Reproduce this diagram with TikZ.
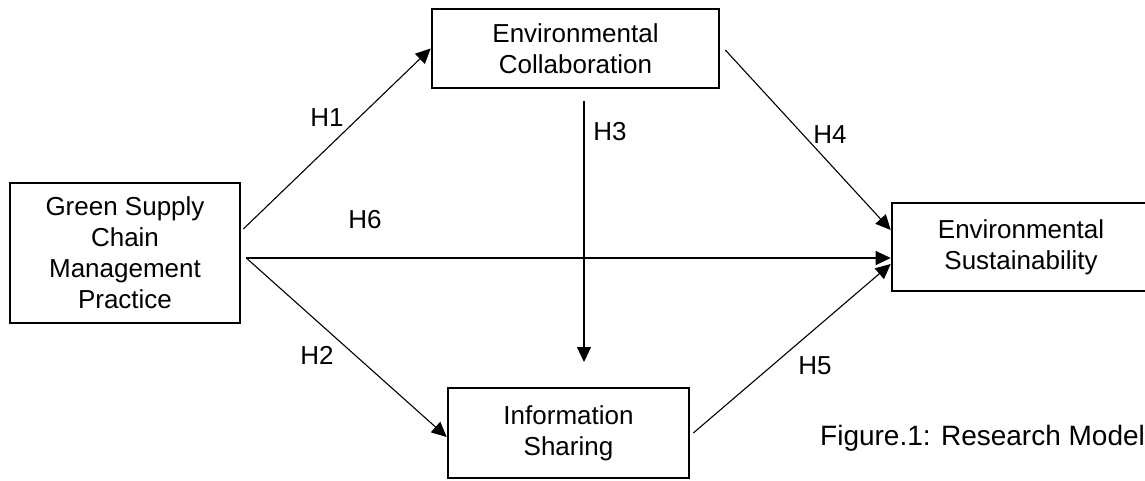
\documentclass[tikz,border=0pt]{standalone}
\usepackage{fontspec}
\setmainfont{Liberation Sans}
\usetikzlibrary{arrows.meta}
\tikzset{
  box/.style={draw=black, line width=2.6pt, fill=white, align=center, inner sep=0pt,
    font=\fontsize{26}{31}\selectfont},
  conn/.style={draw=black, line width=1.1pt, -{Triangle[length=15pt,width=14pt]}},
  lab/.style={font=\fontsize{26}{31}\selectfont, inner sep=0pt},
}
\begin{document}
\begin{tikzpicture}[x=1pt,y=-1pt]
\useasboundingbox (0,0) rectangle (1145,480);
\node[box, minimum width=230pt, minimum height=140pt] (gscm) at (125,253)
  {Green Supply\\Chain\\Management\\Practice};
\node[box, minimum width=287pt, minimum height=79pt] (ec) at (575.5,48.5)
  {Environmental\\Collaboration};
\node[box, minimum width=241pt, minimum height=90pt] (is) at (568.5,433)
  {Information\\Sharing};
\node[box, minimum width=272pt, minimum height=88pt] (es) at (1028,247)
  {Environmental\hspace*{14pt}\\Sustainability\hspace*{14pt}};
\coordinate (h3end) at (584,362);
\draw[conn] ([xshift=2pt,yshift=24pt]gscm.east) -- (ec.west);
\draw[conn] ([xshift=5pt,yshift=-5pt]gscm.east) -- ([yshift=-11pt]es.west);
\draw[conn] ([xshift=5pt,yshift=-5pt]gscm.east) -- ([yshift=-4pt]is.west);
\draw[conn] ([xshift=8.5pt,yshift=-12pt]ec.south) -- (h3end);
\draw[conn] ([xshift=5pt,yshift=-1.5pt]ec.east) -- ([yshift=17pt]es.west);
\draw[conn] ([xshift=3pt]is.east) -- ([yshift=-17pt]es.west);
\node[lab] (h1) at (327,118) {H1};
\node[lab] (h2) at (317,355) {H2};
\node[lab] (h3) at (610,132) {H3};
\node[lab] (h4) at (830,135) {H4};
\node[lab] (h5) at (815,366) {H5};
\node[lab] (h6) at (365,220) {H6};
\node[lab, anchor=west, font=\fontsize{28}{31}\selectfont] (cap) at (820,438) {Figure.1: Research Model};
\end{tikzpicture}
\end{document}
